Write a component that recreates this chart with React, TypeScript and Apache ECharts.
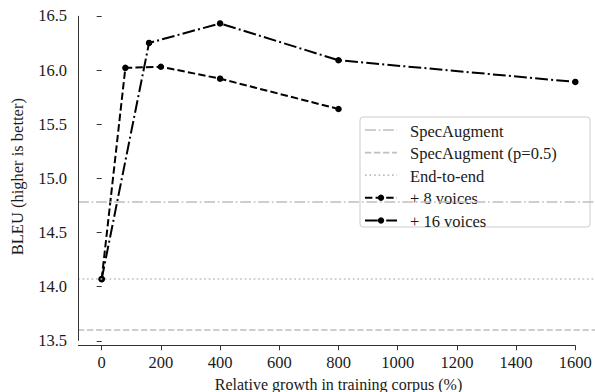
import React, { useEffect, useRef } from "react";
import * as echarts from "echarts";

const X_TICKS = [0, 200, 400, 600, 800, 1000, 1200, 1400, 1600];
const Y_TICKS = [13.5, 14.0, 14.5, 15.0, 15.5, 16.0, 16.5];
const X_MIN = -80;
const X_MAX = 1680;
const Y_MIN = 13.4585;
const Y_MAX = 16.5715;

const voices8X = [0, 80, 200, 400, 800];
const voices8Y = [14.07, 16.02, 16.03, 15.92, 15.64];
const voices16X = [0, 160, 400, 800, 1600];
const voices16Y = [14.07, 16.25, 16.43, 16.09, 15.89];

const refNames = ["SpecAugment", "SpecAugment (p=0.5)", "End-to-end"];
const refValues = [14.78, 13.6, 14.07];
const voiceNames = ["+ 8 voices", "+ 16 voices"];

const FONT = "Liberation Serif";
const FS = 16.5;
const TEXT = "#1a1a1a";
const GREY = "#bfbfbf";
const LW = 2;
const REF_LW = 1.7;
const refDash: number[][] = [
  [REF_LW * 6.4, REF_LW * 1.6, REF_LW * 1, REF_LW * 1.6],
  [REF_LW * 3.7, REF_LW * 1.6],
  [REF_LW * 1, REF_LW * 1.65],
];
const voiceDash: number[][] = [
  [LW * 3.7, LW * 1.6],
  [LW * 6.4, LW * 1.6, LW * 1, LW * 1.6],
];

export default function App() {
  const ref = useRef<HTMLDivElement>(null);
  useEffect(() => {
    if (!ref.current) return;
    const chart = echarts.init(ref.current, undefined, { renderer: "svg" });
    const refSeries = refNames.map((name, i) => ({
      name,
      type: "line",
      data: [],
      symbol: "none",
      lineStyle: { color: GREY, width: REF_LW, type: refDash[i] },
      markLine: {
        silent: true,
        symbol: ["none", "none"],
        label: { show: false },
        lineStyle: { color: GREY, width: REF_LW, type: refDash[i] },
        data: [{ yAxis: refValues[i] }],
      },
      z: 1,
    }));

    // legend drawn with graphic elements
    const LEG_X = 360;
    const LEG_Y = 117;
    const ROW0 = 130;
    const ROW_H = 22.6;
    const legendChildren: any[] = [
      {
        type: "rect",
        shape: { x: LEG_X, y: LEG_Y, width: 230, height: 110, r: 3 },
        style: { fill: "rgba(255,255,255,0.85)", stroke: "#cccccc", lineWidth: 1 },
      },
    ];
    const allNames = [...refNames, ...voiceNames];
    allNames.forEach((name, i) => {
      const y = ROW0 + i * ROW_H;
      const isRef = i < refNames.length;
      const color = isRef ? GREY : "#000";
      const lw = isRef ? REF_LW : LW;
      const dash = isRef ? refDash[i] : voiceDash[i - refNames.length];
      legendChildren.push({
        type: "line",
        shape: { x1: 365, y1: y, x2: 397, y2: y },
        style: { stroke: color, lineWidth: lw, lineDash: dash },
      });
      if (!isRef) {
        legendChildren.push({
          type: "circle",
          shape: { cx: 381, cy: y, r: 3.2 },
          style: { fill: "#000" },
        });
      }
      legendChildren.push({
        type: "text",
        x: 410,
        y: y + 1,
        style: {
          text: name,
          fontFamily: FONT,
          fontSize: FS,
          fill: TEXT,
          verticalAlign: "middle",
          align: "left",
        },
      });
    });

    chart.setOption({
      animation: false,
      grid: {
        left: 78,
        top: 8.1,
        width: 521,
        height: 337.2,
        containLabel: false,
        outerBoundsMode: "none",
      },
      textStyle: { fontFamily: FONT },
      graphic: [{ type: "group", z: 100, children: legendChildren }],
      xAxis: {
        type: "value",
        min: X_MIN,
        max: X_MAX,
        name: "Relative growth in training corpus (%)",
        nameLocation: "middle",
        nameGap: 27,
        nameTextStyle: { fontFamily: FONT, fontSize: 16, color: TEXT },
        axisLine: { show: false },
        splitLine: { show: false },
        axisTick: {
          show: true,
          length: 5,
          customValues: X_TICKS,
          lineStyle: { color: "#333", width: 1 },
        },
        axisLabel: {
          customValues: X_TICKS,
          margin: 9,
          fontFamily: FONT,
          fontSize: FS,
          color: TEXT,
          formatter: (v: number) => String(v),
        },
      },
      yAxis: {
        type: "value",
        min: Y_MIN,
        max: Y_MAX,
        name: "BLEU (higher is better)",
        nameLocation: "middle",
        nameGap: 52,
        nameTextStyle: { fontFamily: FONT, fontSize: FS, color: TEXT },
        axisLine: { show: false },
        splitLine: { show: false },
        axisTick: {
          show: true,
          length: 5,
          customValues: Y_TICKS,
          lineStyle: { color: "#333", width: 1 },
        },
        axisLabel: {
          customValues: Y_TICKS,
          margin: 11,
          fontFamily: FONT,
          fontSize: FS,
          color: TEXT,
          formatter: (v: number) => v.toFixed(1),
        },
      },
      series: [
        ...refSeries,
        {
          name: "axes",
          type: "line",
          data: [],
          symbol: "none",
          clip: false,
          markLine: {
            silent: true,
            symbol: ["none", "none"],
            label: { show: false },
            lineStyle: { color: "#333", width: 1, type: "solid" },
            data: [
              [{ coord: [X_MIN, Y_TICKS[0]] }, { coord: [X_MIN, Y_TICKS[Y_TICKS.length - 1]] }],
              [{ coord: [X_MIN, Y_MIN] }, { coord: [X_TICKS[X_TICKS.length - 1], Y_MIN] }],
            ],
          },
        },
        {
          name: voiceNames[0],
          type: "line",
          data: voices8X.map((x, i) => [x, voices8Y[i]]),
          symbol: "circle",
          symbolSize: 6.5,
          lineStyle: { color: "#000", width: LW, type: voiceDash[0] },
          itemStyle: { color: "#000" },
          z: 3,
        },
        {
          name: voiceNames[1],
          type: "line",
          data: voices16X.map((x, i) => [x, voices16Y[i]]),
          symbol: "circle",
          symbolSize: 6.5,
          lineStyle: { color: "#000", width: LW, type: voiceDash[1] },
          itemStyle: { color: "#000" },
          z: 3,
        },
      ],
    });
    return () => chart.dispose();
  }, []);
  return <div ref={ref} style={{ width: 595, height: 392, position: "absolute", left: 0, top: 0 }} />;
}
